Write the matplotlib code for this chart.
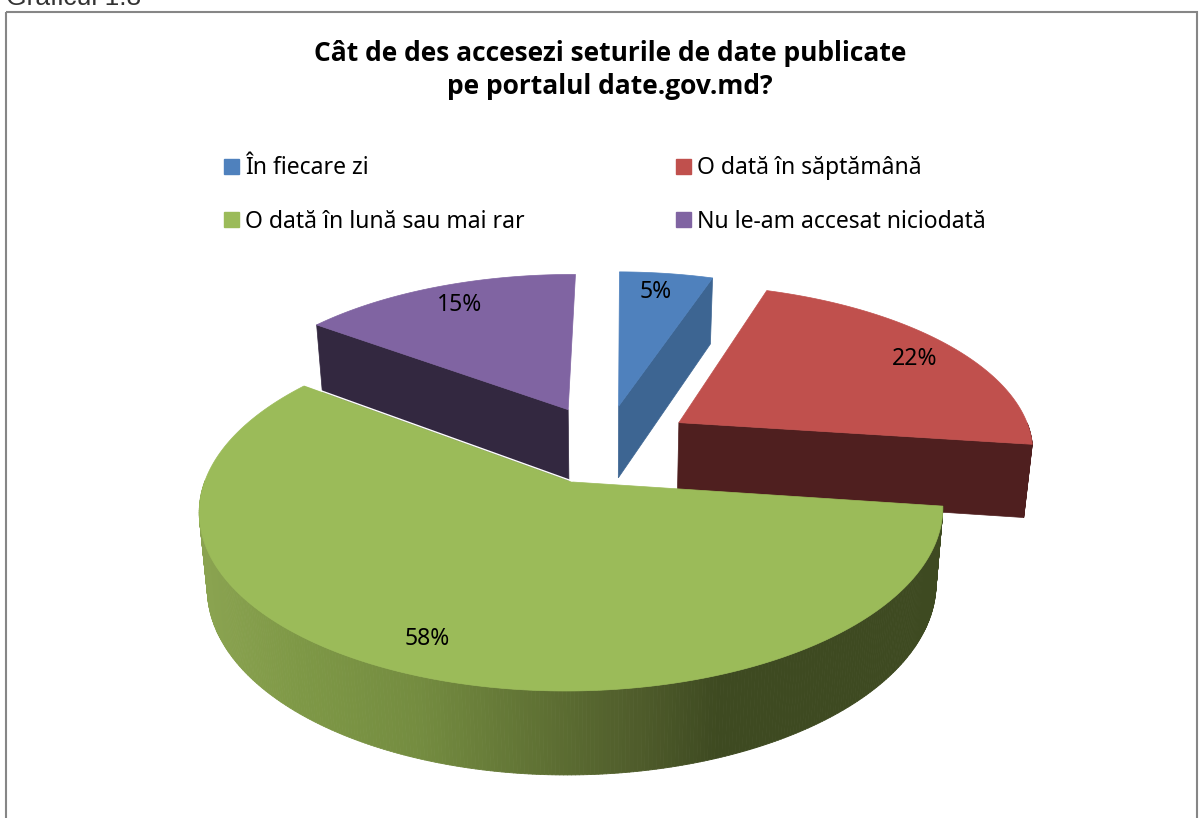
"""
Exploded 3D pie of date.gov.md access frequency, drawn with a small
perspective projection since matplotlib has no 3D pie.
"""

import numpy as np
import matplotlib
matplotlib.use("Agg")
import matplotlib.pyplot as plt
from matplotlib.collections import PolyCollection
from matplotlib.patches import Patch, Polygon, Rectangle

title = "Cât de des accesezi seturile de date publicate\npe portalul date.gov.md?"
caption = "Graficul 1.8"
categories = ["În fiecare zi", "O dată în săptămână", "O dată în lună sau mai rar", "Nu le-am accesat niciodată"]
values = [5, 22, 58, 15]
top_colors = ["#4f81bd", "#c0504d", "#9bbb59", "#8064a2"]
wall_colors = ["#3d6592", "#4f1f1f", "#3e4a21", "#332840"]

# projection of the pie disc onto the page, in pixels
CX, CY = 605, 444
RX, RY = 355, 165
PERSP = 0.15
DEPTH_BASE = 25.2
DEPTH_SCALE = 48
SHRINK = 0.02
EXPLODE = [0.24, 0.25, 0.24, 0.24]
ROTATION = np.deg2rad(0.5)

W, H = 1203, 818


def project(u, v, drop=False):
    s = 1 / (1 - PERSP * v)
    x = CX + RX * u * s
    y = CY + RY * v * s
    if drop:
        x = CX + (x - CX) * (1 - SHRINK)
        y = y + DEPTH_BASE + DEPTH_SCALE * s
    return x, y


def side_color(x):
    # shading across the green rim, light on the left and dark from the middle
    stops = [205, 300, 420, 560, 640, 720]
    reds = [0x8a, 0x7e, 0x74, 0x5c, 0x4f, 0x3e]
    greens = [0xa3, 0x98, 0x8c, 0x6d, 0x5c, 0x4a]
    blues = [0x50, 0x46, 0x40, 0x32, 0x2b, 0x21]
    return (np.interp(x, stops, reds) / 255, np.interp(x, stops, greens) / 255, np.interp(x, stops, blues) / 255)


fig = plt.figure(figsize=(W / 100, H / 100), dpi=100)
ax = fig.add_axes([0, 0, 1, 1])
ax.set_xlim(0, W)
ax.set_ylim(H, 0)
ax.axis("off")

# chart frame, its bottom edge runs past the page
ax.add_patch(Rectangle((5.5, 11.5), 1191, 900, fill=False, ec="#868686", lw=1.5))
# the caption is cut by the top of the page in the source as well
fig.text(6 / W, 1 - 5 / H, caption, family="Liberation Sans", fontsize=19, color="#333333", ha="left", va="baseline")

ax.text(610, 70, title, family="Open Sans", fontweight="bold", fontsize=19, ha="center", va="center",
        linespacing=1.32, color="black")

# angles run clockwise from twelve o'clock
fractions = np.array(values) / sum(values)
ends = np.cumsum(fractions) * 2 * np.pi + ROTATION
starts = ends - fractions * 2 * np.pi
mids = (starts + ends) / 2

label_nudge = [(-2, -5), (17, 0), (-15, 9), (-1, -4)]
label_pos = []

# green goes last, it sits in front of the other three
for i in [0, 3, 1, 2]:
    ax0 = EXPLODE[i] * np.sin(mids[i])
    av0 = -EXPLODE[i] * np.cos(mids[i])
    t = np.linspace(starts[i], ends[i], 400)
    u = ax0 + np.sin(t)
    v = av0 - np.cos(t)

    x_top, y_top = project(u, v)
    x_bot, y_bot = project(u, v, drop=True)

    # outer rim, split in quads so the green one can carry its shading
    quads = []
    colors = []
    for k in range(len(t) - 1):
        if np.cos(t[k]) > 0:
            continue
        quads.append([(x_top[k], y_top[k]), (x_top[k + 1], y_top[k + 1]), (x_bot[k + 1], y_bot[k + 1]), (x_bot[k], y_bot[k])])
        colors.append(side_color(x_top[k]) if i == 2 else wall_colors[i])
    if quads:
        ax.add_collection(PolyCollection(quads, facecolors=colors, edgecolors=colors, linewidths=0.6))

    x0, y0 = project(ax0, av0)
    x0b, y0b = project(ax0, av0, drop=True)

    # cut walls, only the ones facing us show
    if i == 0 or i == 1:
        ax.add_patch(Polygon([(x0, y0), (x_top[-1], y_top[-1]), (x_bot[-1], y_bot[-1]), (x0b, y0b)],
                             fc=wall_colors[i], ec=wall_colors[i], lw=0.5))
    if i == 3:
        ax.add_patch(Polygon([(x0, y0), (x_top[0], y_top[0]), (x_bot[0], y_bot[0]), (x0b, y0b)],
                             fc=wall_colors[i], ec=wall_colors[i], lw=0.5))
    if i == 2:
        ax.plot([x0, x_top[-1]], [y0 - 1, y_top[-1] - 1], color="white", lw=1.0)

    ax.add_patch(Polygon(np.column_stack([np.r_[x0, x_top], np.r_[y0, y_top]]), fc=top_colors[i], ec=top_colors[i], lw=0.5))

    lx, ly = project(ax0 + 0.8 * np.sin(mids[i]), av0 - 0.8 * np.cos(mids[i]))
    label_pos.append((i, lx + label_nudge[i][0], ly + label_nudge[i][1]))

for i, lx, ly in label_pos:
    ax.text(lx, ly, f"{values[i]}%", family="Noto Sans", fontsize=16.5, ha="center", va="center", color="black")

# legend fills by column, the source reads by row
order = [0, 2, 1, 3]
handles = [Patch(fc=top_colors[i], ec=top_colors[i]) for i in order]
labels = [categories[i] for i in order]
leg = ax.legend(handles, labels, ncol=2, loc="upper left", bbox_to_anchor=(224 / W, 1 - 156.5 / H),
                bbox_transform=fig.transFigure, frameon=False, borderpad=0, borderaxespad=0,
                handlelength=0.655, handleheight=0.655, handletextpad=0.26, labelspacing=1.27, columnspacing=6.6,
                prop={"family": "Noto Sans", "size": 16.5})

fig.savefig("out.png", dpi=100)
